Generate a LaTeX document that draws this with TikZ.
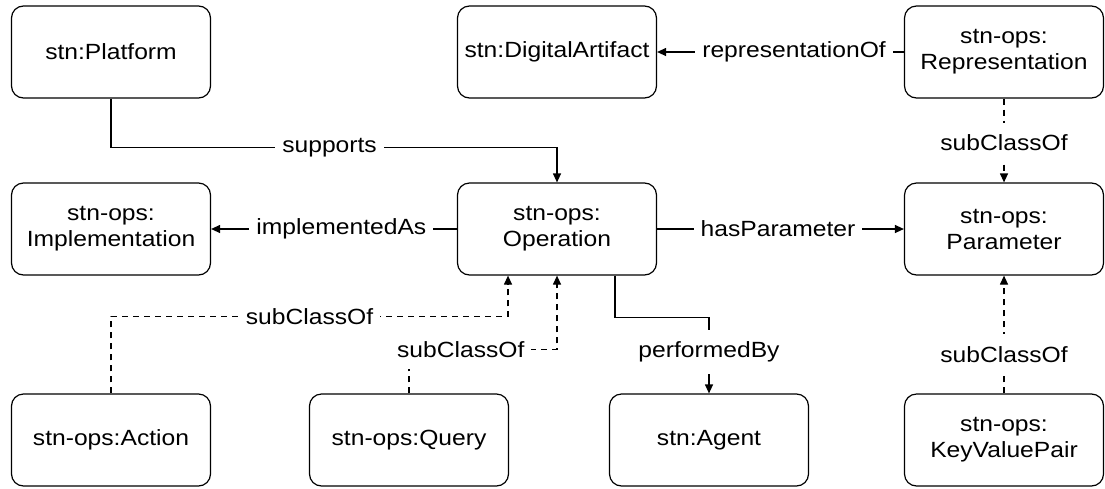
\documentclass[tikz,border=0pt]{standalone}
\usepackage{fontspec}
\setmainfont{Liberation Sans}[FakeStretch=1.12]
\usetikzlibrary{arrows.meta}
\tikzset{
  box/.style={draw, line width=1.2pt, rounded corners=12pt, minimum width=199pt, minimum height=92pt, align=center, font=\fontsize{22}{26}\selectfont, inner sep=0pt},
  lbl/.style={fill=white, font=\fontsize{22}{26}\selectfont, inner xsep=7pt, inner ysep=12pt},
  conn/.style={line width=1.2pt},
  arr/.style={conn, -{Triangle[length=9pt,width=8pt]}},
  darr/.style={arr, dash pattern=on 6pt off 5pt},
}
\begin{document}
\begin{tikzpicture}[x=1pt,y=-1pt]
\useasboundingbox (0,0) rectangle (1105,488);
\node[box] (plat) at (111,52) {stn:Platform};
\node[box] (dig) at (557,52) {stn:DigitalArtifact};
\node[box] (rep) at (1004,52) {stn-ops:\\Representation};
\node[box] (impl) at (111,229) {stn-ops:\\Implementation};
\node[box] (op) at (557,229) {stn-ops:\\Operation};
\node[box] (par) at (1004,229) {stn-ops:\\Parameter};
\node[box] (act) at (111,440) {stn-ops:Action};
\node[box] (qry) at (409,440) {stn-ops:Query};
\node[box] (agt) at (709,440) {stn:Agent};
\node[box] (kvp) at (1004,440) {stn-ops:\\KeyValuePair};

\draw[arr] (plat.south) -- ++(0,49) -| node[lbl,pos=0.245]{supports} (op.north);
\draw[arr] (rep.west) -- node[lbl,pos=0.445]{representationOf} (dig.east);
\draw[darr] (rep.south) -- node[lbl,pos=0.53]{subClassOf} (par.north);
\draw[arr] (op.west) -- node[lbl,pos=0.47]{implementedAs} (impl.east);
\draw[arr] (op.east) -- node[lbl,pos=0.49]{hasParameter} (par.west);
\draw[darr] (act.north) -- ++(0,-77) -| node[lbl,pos=0.25]{subClassOf} ([xshift=-49pt]op.south);
\draw[darr] (qry.north) -- ++(0,-44) -| node[lbl,pos=0.175]{subClassOf} (op.south);
\draw[arr] ([xshift=58pt]op.south) -- ++(0,42) -| node[lbl,pos=0.727]{performedBy} (agt.north);
\draw[darr] (kvp.north) -- node[lbl,pos=0.33]{subClassOf} (par.south);
\end{tikzpicture}
\end{document}
